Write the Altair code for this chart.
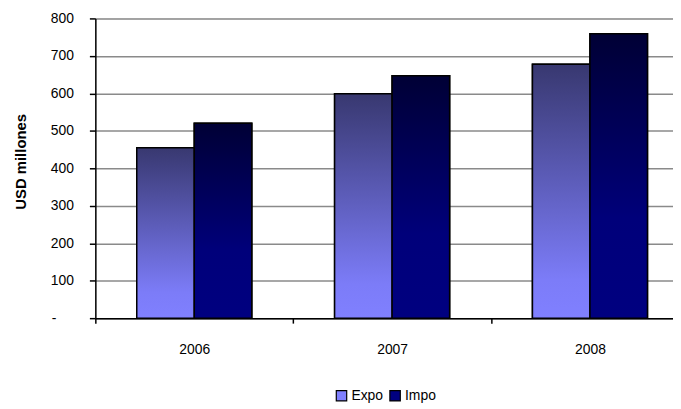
import altair as alt
import pandas as pd

years = ["2006", "2007", "2008"]
series = ["Expo", "Impo"]
expo = [455, 599, 678]
impo = [520, 647, 759]
y_ticks = [0, 100, 200, 300, 400, 500, 600, 700, 800]

rows = []
for i, yr in enumerate(years):
    rows.append({"year": yr, "serie": "Expo", "value": expo[i]})
    rows.append({"year": yr, "serie": "Impo", "value": impo[i]})
df = pd.DataFrame(rows)

FONT = "Liberation Sans"

x = alt.X(
    "year:N", title=None, sort=years,
    scale=alt.Scale(paddingInner=0, paddingOuter=0, range=[0, 598]),
    axis=alt.Axis(labelAngle=0, tickBand="extent", domainColor="black", tickColor="black",
                  tickSize=5, tickWidth=1.5, domainWidth=1.5, labelPadding=20,
                  labelFontSize=14, labelColor="black", labelFont=FONT, grid=False),
)
xo = alt.XOffset("serie:N", sort=series, scale=alt.Scale(paddingInner=0, paddingOuter=0.72))
y = alt.Y(
    "value:Q", title="USD millones",
    scale=alt.Scale(domain=[0, 800], nice=False),
    axis=alt.Axis(values=y_ticks,
                  labelExpr="datum.value == 0 ? '-' : datum.label",
                  labelAlign={"condition": {"test": "datum.value == 0", "value": "center"}, "value": "right"},
                  labelPadding={"condition": {"test": "datum.value == 0", "value": 36}, "value": 16},
                  domainColor="black", tickColor="black", tickSize=6, tickWidth=1.5,
                  domainWidth=1.5, labelFontSize=14, labelColor="black",
                  labelFont=FONT, grid=True, gridColor="#8a8a8a", gridWidth=1.5,
                  titleFont=FONT, titleFontSize=15, titleFontWeight="bold", titleColor="black",
                  titlePadding=22, titleY=144),
)

base = alt.Chart(df).encode(x=x, xOffset=xo, y=y)

legend_layer = base.mark_bar(stroke="black", strokeWidth=1.5).encode(
    color=alt.Color(
        "serie:N", sort=series,
        scale=alt.Scale(domain=series, range=["#8080FF", "#000080"]),
        legend=alt.Legend(title=None, orient="none", legendX=241, legendY=373,
                          direction="horizontal", symbolType="square", symbolSize=110,
                          symbolStrokeColor="black", symbolStrokeWidth=1.2,
                          labelFont=FONT, labelFontSize=14, labelColor="black",
                          labelOffset=3, columnPadding=4),
    )
)

grad_expo = alt.LinearGradient(
    gradient="linear", x1=0, x2=0, y1=1, y2=0,
    stops=[alt.GradientStop(color="#8080FF", offset=0),
           alt.GradientStop(color="#7c7cf8", offset=0.15),
           alt.GradientStop(color="#383870", offset=1)],
)
grad_impo = alt.LinearGradient(
    gradient="linear", x1=0, x2=0, y1=1, y2=0,
    stops=[alt.GradientStop(color="#000080", offset=0),
           alt.GradientStop(color="#00007a", offset=0.35),
           alt.GradientStop(color="#000035", offset=1)],
)

expo_layer = base.transform_filter(alt.datum.serie == "Expo").mark_bar(
    fill=grad_expo, stroke="black", strokeWidth=1.5)
impo_layer = base.transform_filter(alt.datum.serie == "Impo").mark_bar(
    fill=grad_impo, stroke="black", strokeWidth=1.5)

chart = alt.layer(legend_layer, expo_layer, impo_layer).properties(
    width=582, height=302,
    padding={"left": 88, "top": 9, "right": 0, "bottom": 88},
    autosize=alt.AutoSizeParams(type="none"),
).configure_view(stroke=None).configure(background="white")

chart.save("out.html", embed_options={"renderer": "svg", "actions": False})
